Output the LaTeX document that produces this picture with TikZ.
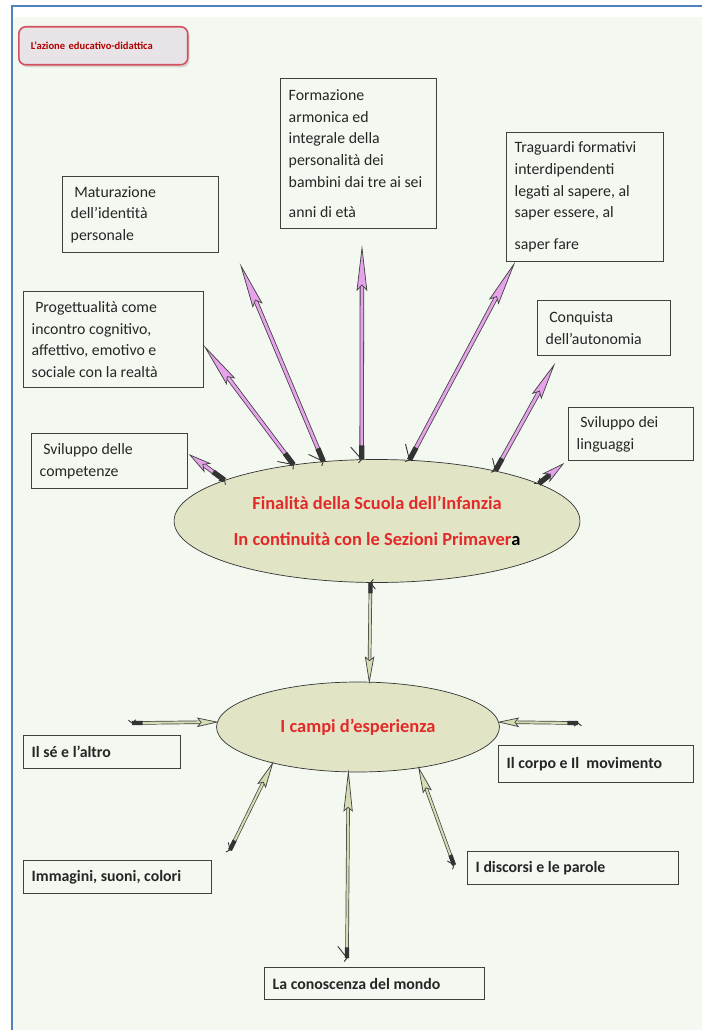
\documentclass[tikz,border=0pt]{standalone}
\usepackage{fontspec}
\setmainfont{Carlito}
\usetikzlibrary{shapes.geometric}
\usetikzlibrary{decorations.markings}
\usetikzlibrary{shadows}

\definecolor{sfondo}{HTML}{F3F9F1}
\definecolor{cornice}{HTML}{4F81BD}
\definecolor{rosa}{HTML}{E6A2EA}
\definecolor{oliva}{HTML}{D5DBB2}
\definecolor{ovale}{HTML}{E2E5C5}
\definecolor{rosso}{HTML}{E32A2A}
\definecolor{bordino}{HTML}{D4505F}
\definecolor{titolofondo}{HTML}{E8E3E6}

\tikzset{
  finarrow/.style={draw=black!75, line width=0.45pt, double=rosa, double distance=1.6pt, shorten >=#1/2,
    postaction={decorate, decoration={markings,
      mark=at position 0 with {\fill[black!80] (0,-1.5pt) rectangle (8pt,1.5pt);
        \draw[black!80, line width=0.5pt] (0,0) -- (-2pt,1.8pt) (0,0) -- (-2pt,-1.8pt);},
      mark=at position 1 with {\filldraw[fill=rosa, draw=black!75, line width=0.4pt, shorten >=0pt]
        (0,0) -- (-#1,2.8pt) -- (-#1+3pt,0) -- (-#1,-2.8pt) -- cycle;}}}},
  finarrow/.default=24pt,
  campoarrow/.style={draw=black!75, line width=0.4pt, double=oliva, double distance=1.2pt, shorten >=#1/2,
    postaction={decorate, decoration={markings,
      mark=at position 0 with {\fill[black!80] (0,-1.2pt) rectangle (6pt,1.2pt);
        \draw[black!80, line width=0.5pt] (0,0) -- (-2pt,1.6pt) (0,0) -- (-2pt,-1.6pt);},
      mark=at position 1 with {\filldraw[fill=oliva, draw=black!75, line width=0.4pt, shorten >=0pt]
        (0,0) -- (-#1,2.4pt) -- (-#1+2pt,0) -- (-#1,-2.4pt) -- cycle;}}}},
  campoarrow/.default=14pt
}

\begin{document}
\begin{tikzpicture}[x=0.02cm, y=-0.02cm]
    \tikzstyle{box}=[draw=black!75, thick, anchor=north west, align=left, inner xsep=0.16cm, text=black!85,
        font=\fontsize{9}{12.3}\selectfont, execute at begin node={\spaceskip=0pt\xspaceskip=0pt\relax}]
    \tikzstyle{campo}=[box, font=\fontsize{9}{11}\selectfont\bfseries]
    \tikzstyle{oval}=[ellipse, draw=black!80, fill=ovale, inner sep=0pt, align=center, text=rosso, font=\fontsize{10.5}{20.4}\selectfont\bfseries]
    \tikzstyle{titlebox}=[draw=bordino, line width=0.9pt, fill=titolofondo, rounded corners=4pt, anchor=north west, align=left,
        drop shadow={opacity=0.25, shadow xshift=1pt, shadow yshift=-1.5pt},
        text=red!70!black, font=\fontsize{6}{7}\selectfont\bfseries, inner xsep=0.24cm]
    \useasboundingbox (0,0) rectangle (702,1030);
    \fill[white] (0,0) rectangle (702,1030);
    \fill[sfondo] (13,17) rectangle (702,1030);
    \draw[cornice, line width=1.2pt] (12,1030) -- (12,6) -- (702,6);

    \node[titlebox, minimum width=3.38cm, minimum height=0.76cm, text width=2.9cm] (titolo) at (18,26) {L’azione educativo-didattica};

    \node[box, minimum width=3.12cm, minimum height=1.52cm, text width=2.8cm]  (mat)  at (62,176)  {\ Maturazione\\dell’identità\\personale};
    \node[box, minimum width=3.6cm, minimum height=1.92cm, text width=3.28cm]  (prog) at (23,291)  {\ Progettualità come\\incontro cognitivo,\\affettivo, emotivo e\\sociale con la realtà};
    \node[box, minimum width=3.12cm, minimum height=1.1cm, text width=2.8cm]   (svc)  at (31,433)  {\ Sviluppo delle\\competenze};
    \node[box, minimum width=3.12cm, minimum height=3cm, text width=2.8cm]     (form) at (280,78)  {Formazione\\armonica ed\\integrale della\\personalità dei\\bambini dai tre ai sei\\[5pt]anni di età};
    \node[box, minimum width=3.14cm, minimum height=2.58cm, text width=2.82cm] (trag) at (506,132) {Traguardi formativi\\interdipendenti\\legati al sapere, al\\saper essere, al\\[6pt]saper fare};
    \node[box, minimum width=2.66cm, minimum height=1.1cm, text width=2.34cm]  (conq) at (537,300) {\ Conquista\\dell’autonomia};
    \node[box, minimum width=2.5cm, minimum height=1.06cm, text width=2.18cm]  (svl)  at (568,407) {\ Sviluppo dei\\linguaggi};

    \node[oval, minimum width=7.98cm, minimum height=2.46cm] (fin)   at (377,521) {Finalità della Scuola dell’Infanzia\\In continuità con le Sezioni Primaver\textcolor{black}{a}};
    \node[oval, minimum width=5.66cm, minimum height=1.8cm]  (campi) at (358,727) {I campi d’esperienza};

    \node[campo, minimum width=3.14cm, minimum height=0.66cm, text width=2.82cm] (se)    at (23,735)  {Il sé e l’altro};
    \node[campo, minimum width=3.76cm, minimum height=0.66cm, text width=3.44cm] (img)   at (23,860)  {Immagini, suoni, colori};
    \node[campo, minimum width=3.9cm, minimum height=0.74cm, text width=3.58cm]  (corpo) at (498,745) {Il corpo e Il\ \ movimento};
    \node[campo, minimum width=4.22cm, minimum height=0.66cm, text width=3.9cm]  (disc)  at (467,851) {I discorsi e le parole};
    \node[campo, minimum width=4.4cm, minimum height=0.64cm, text width=4.08cm]  (mondo) at (264,967) {La conoscenza del mondo};

    \coordinate (pSvc)  at (190,455);
    \coordinate (pProg) at (205,347);
    \coordinate (pMat)  at (241,266);
    \coordinate (pForm) at (362,248);
    \coordinate (pTrag) at (514,264);
    \coordinate (pConq) at (554,365);
    \coordinate (pSvl)  at (563,464);
    \coordinate (cSe)    at (132,723);
    \coordinate (cCorpo) at (578,723);
    \coordinate (cImg)   at (230,850);
    \coordinate (cMondo) at (347,958);
    \coordinate (cDisc)  at (454,865);

    \path
    (fin.165) edge[finarrow=12pt] (pSvc)
    (fin.146) edge[finarrow]      (pProg)
    (fin.132) edge[finarrow]      (pMat)
    (fin.104) edge[finarrow]      (pForm)
    (fin.62)  edge[finarrow]      (pTrag)
    (fin.23)  edge[finarrow=20pt] (pConq)
    (fin.13)  edge[finarrow=12pt] (pSvl)
    (fin.264) edge[campoarrow]    (campi.76);
    \path
    (cSe)    edge[campoarrow=11pt] (campi.178)
    (cCorpo) edge[campoarrow=11pt] (campi.2)
    (cImg)   edge[campoarrow]      (campi.203)
    (cMondo) edge[campoarrow=22pt] (campi.258)
    (cDisc)  edge[campoarrow]      (campi.-34);
\end{tikzpicture}
\end{document}
